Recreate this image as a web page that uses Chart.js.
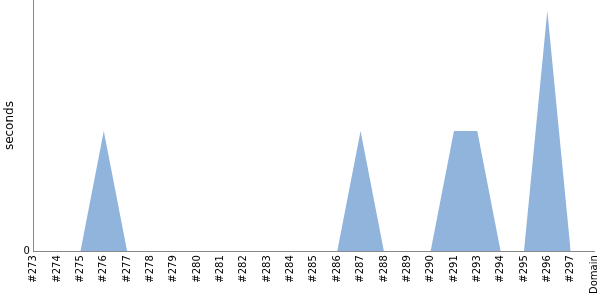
<!DOCTYPE html>
<html>
<head>
<meta charset="utf-8">
<script src="https://cdn.jsdelivr.net/npm/chart.js@4/dist/chart.umd.min.js"></script>
<style>
  html, body { margin: 0; padding: 0; background: #fff; }
  #wrap { width: 600px; height: 300px; }
</style>
</head>
<body>
<div id="wrap"><canvas id="myChart" width="600" height="300"></canvas></div>
<script>
// Données du graphique
const builds = ["#273", "#274", "#275", "#276", "#277", "#278", "#279", "#280", "#281",
    "#282", "#283", "#284", "#285", "#286", "#287", "#288", "#289", "#290", "#291",
    "#293", "#294", "#295", "#296", "#297", "Domain"];
const seconds = [0, 0, 0, 1, 0, 0, 0, 0, 0, 0, 0, 0, 0, 0, 1, 0, 0, 0, 1, 1, 0, 0, 2, 0, null];
const yTicks = [0];

Chart.defaults.font.family = "'DejaVu Sans', sans-serif";
Chart.defaults.color = "#000";

new Chart(document.getElementById("myChart"), {
    type: "line",
    data: {
        labels: builds,
        datasets: [{
            label: "seconds",
            data: seconds,
            fill: "origin",
            backgroundColor: "rgb(145,180,220)",
            borderWidth: 0,
            borderColor: "rgba(0,0,0,0)",
            pointRadius: 0,
            tension: 0
        }]
    },
    options: {
        responsive: false,
        animation: false,
        layout: { padding: { top: 0, right: 6, left: 1, bottom: 2 } },
        plugins: { legend: { display: false }, tooltip: { enabled: false } },
        scales: {
            x: {
                grid: { display: false, drawTicks: false },
                border: { color: "#888" },
                ticks: { autoSkip: false, minRotation: 90, maxRotation: 90, padding: 4, font: { size: 10 } },
                afterFit: (axis) => { axis.paddingLeft = 0; axis.paddingRight = 0; }
            },
            y: {
                min: 0,
                max: 2.09,
                grid: { display: false, drawTicks: false },
                border: { color: "#888" },
                afterBuildTicks: (axis) => { axis.ticks = yTicks.map(v => ({ value: v })); },
                afterFit: (axis) => { axis.paddingTop = 0; axis.paddingBottom = 0; },
                ticks: { padding: 4, font: { size: 10 } },
                title: { display: true, text: "seconds", font: { size: 12 }, padding: 2 }
            }
        }
    }
});
</script>
</body>
</html>
